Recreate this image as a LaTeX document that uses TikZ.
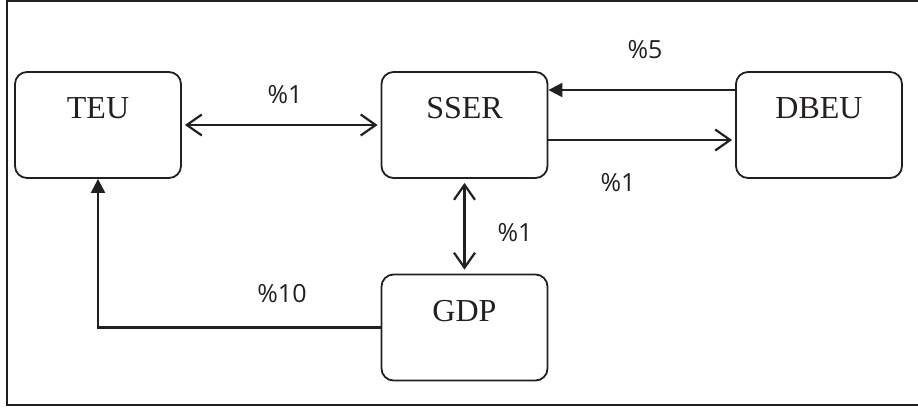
\documentclass[tikz,border=0pt]{standalone}
\usepackage{fontspec}
\setmainfont{Liberation Serif}
\newfontfamily\labelfont{Open Sans}
\usetikzlibrary{arrows.meta}
\definecolor{ink}{RGB}{35,31,32}
\begin{document}
\begin{tikzpicture}[x=1pt,y=-1pt,
  box/.style={draw=ink, line width=1.8pt, rounded corners=12pt,
    minimum width=166pt, minimum height=106pt, inner sep=0pt,
    font=\fontsize{32}{32}\selectfont, text=ink,
    text height=20pt, text depth=33pt},
  conn/.style={draw=ink, line width=2.2pt},
  barb/.tip={Straight Barb[length=15pt,width=21pt]},
  tri/.tip={Triangle[length=14pt,width=14pt]},
  lab/.style={font=\labelfont\fontsize{25}{25}\selectfont, text=ink, inner sep=0pt}]
\useasboundingbox (0,0) rectangle (918,408);
% frame
\draw[ink, line width=1.8pt] (920,1) -- (7,1) -- (7,405) -- (920,405);
% boxes
\node[box] (teu) at (98,125) {TEU};
\node[box] (sser) at (464.5,125) {SSER};
\node[box] (dbeu) at (819,125) {DBEU};
\node[box] (gdp) at (464.5,327.5) {GDP};
% connectors
\draw[conn, barb-barb, shorten <=3pt, shorten >=3pt] (teu) -- (sser);
\draw[conn, -tri] ([yshift=35pt]dbeu.west) -- ([yshift=35pt]sser.east);
\draw[conn, -barb, shorten >=3pt] ([yshift=-15pt]sser.east) -- ([yshift=-15pt]dbeu.west);
\draw[conn, barb-barb, shorten <=4pt, shorten >=4pt] (sser) -- (gdp);
\draw[conn, -tri] (gdp.west) -| (teu.south);
% labels
\node[lab] (l1) at (285,95) {\%1};
\node[lab] (l2) at (645,50) {\%5};
\node[lab] (l3) at (618,183) {\%1};
\node[lab] (l4) at (515,233) {\%1};
\node[lab] (l5) at (282,294) {\%10};
\end{tikzpicture}
\end{document}
